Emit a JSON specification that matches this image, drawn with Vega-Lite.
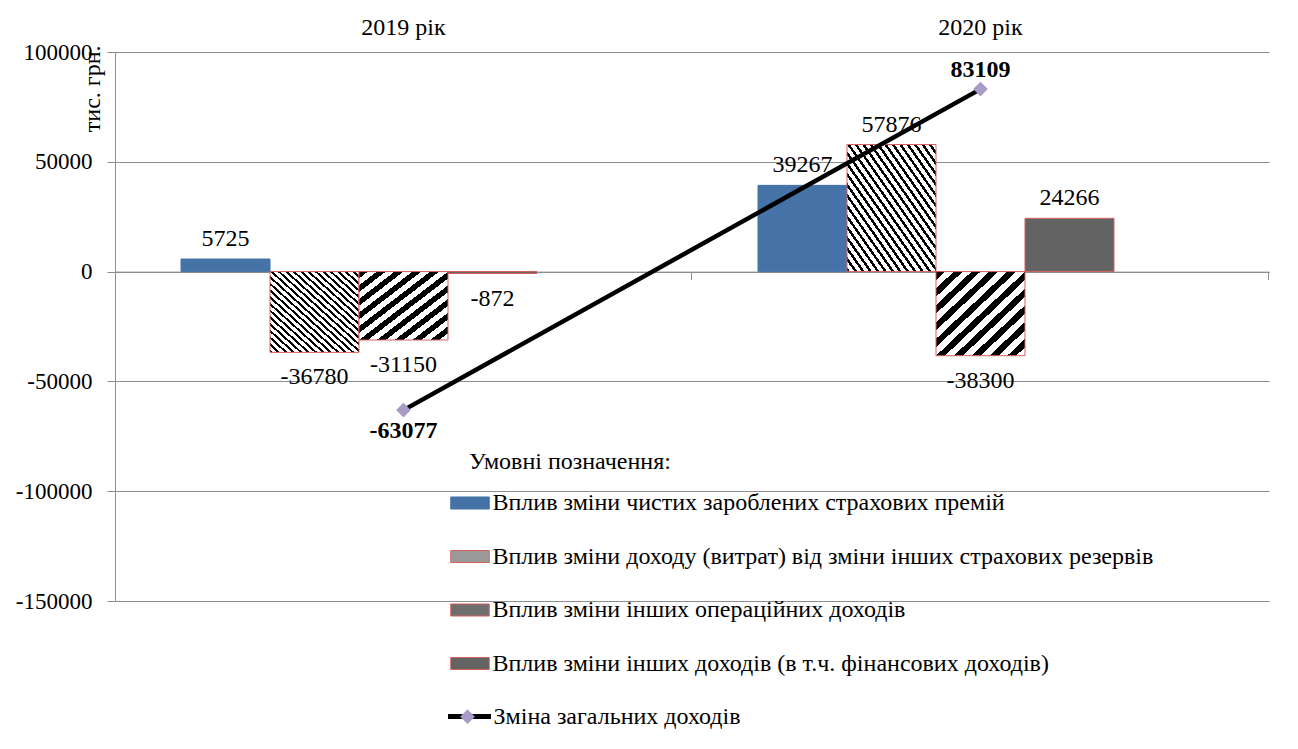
{
  "$schema": "https://vega.github.io/schema/vega-lite/v6.json",
  "autosize": {"type": "none"},
  "padding": {"left": 115, "top": 52, "right": 29, "bottom": 148},
  "width": 1154,
  "height": 549,
  "background": "white",
  "config": {
    "view": {"stroke": null},
    "font": "Liberation Serif",
    "text": {"font": "Liberation Serif", "fontSize": 24, "color": "black"}
  },
  "datasets": {
    "bars": [
      {"year": "2019 рік", "series": "Вплив зміни чистих зароблених страхових премій", "value": 5725},
      {"year": "2019 рік", "series": "Вплив зміни доходу (витрат) від зміни інших страхових резервів", "value": -36780},
      {"year": "2019 рік", "series": "Вплив зміни інших операційних доходів", "value": -31150},
      {"year": "2019 рік", "series": "Вплив зміни інших доходів (в т.ч. фінансових доходів)", "value": -872},
      {"year": "2020 рік", "series": "Вплив зміни чистих зароблених страхових премій", "value": 39267},
      {"year": "2020 рік", "series": "Вплив зміни доходу (витрат) від зміни інших страхових резервів", "value": 57876},
      {"year": "2020 рік", "series": "Вплив зміни інших операційних доходів", "value": -38300},
      {"year": "2020 рік", "series": "Вплив зміни інших доходів (в т.ч. фінансових доходів)", "value": 24266}
    ],
    "totals": [
      {"year": "2019 рік", "total": -63077},
      {"year": "2020 рік", "total": 83109}
    ]
  },
  "resolve": {"axis": {"x": "independent"}},
  "layer": [
    {
      "data": {"name": "bars"},
      "mark": {"type": "bar", "strokeWidth": 1},
      "encoding": {
        "x": {
          "field": "year", "type": "nominal", "sort": null,
          "scale": {"paddingInner": 0.2288, "paddingOuter": 0.1144},
          "axis": {"orient": "top", "title": null, "domain": false, "ticks": false, "tickSize": 0, "grid": false, "labelAngle": 0, "labelFont": "Liberation Serif", "labelFontSize": 24, "labelColor": "black", "labelPadding": 25, "labelBaseline": "middle"}
        },
        "xOffset": {
          "field": "series", "type": "nominal",
          "scale": {"domain": ["Вплив зміни чистих зароблених страхових премій", "Вплив зміни доходу (витрат) від зміни інших страхових резервів", "Вплив зміни інших операційних доходів", "Вплив зміни інших доходів (в т.ч. фінансових доходів)", "_"], "paddingInner": 0, "paddingOuter": 0}
        },
        "y": {
          "field": "value", "type": "quantitative",
          "scale": {"domain": [-150000, 100000], "nice": false, "zero": false},
          "axis": {"values": [-150000, -100000, -50000, 0, 50000, 100000], "labelExpr": "'' + datum.value", "title": "тис. грн.", "titleFont": "Liberation Serif", "titleFontSize": 24, "titleFontWeight": "normal", "titleColor": "black", "titleAngle": 270, "titleAlign": "right", "titleBaseline": "alphabetic", "titleX": -16, "titleY": -7, "labelFont": "Liberation Serif", "labelFontSize": 23, "labelColor": "black", "labelPadding": 15, "tickSize": 8, "tickColor": "#8e8e8e", "domainColor": "#8e8e8e", "gridColor": "#8e8e8e", "grid": true, "gridOpacity": 1}
        },
        "fill": {
          "field": "series", "type": "nominal",
          "scale": {
            "domain": ["Вплив зміни чистих зароблених страхових премій", "Вплив зміни доходу (витрат) від зміни інших страхових резервів", "Вплив зміни інших операційних доходів", "Вплив зміни інших доходів (в т.ч. фінансових доходів)"],
            "range": ["#4572a7", "#9a9a9a", "#6e6e6e", "#636363"]
          },
          "condition": [
            {"test": "datum.series === 'Вплив зміни доходу (витрат) від зміни інших страхових резервів'", "value": {"gradient": "linear", "x1": 0, "y1": 1, "x2": 1, "y2": 0, "stops": [
                {"offset": 0, "color": "#000"}, {"offset": 0.0167, "color": "#000"}, {"offset": 0.0167, "color": "#fff"}, {"offset": 0.0417, "color": "#fff"},
                {"offset": 0.0417, "color": "#000"}, {"offset": 0.0583, "color": "#000"}, {"offset": 0.0583, "color": "#fff"}, {"offset": 0.0833, "color": "#fff"},
                {"offset": 0.0833, "color": "#000"}, {"offset": 0.1, "color": "#000"}, {"offset": 0.1, "color": "#fff"}, {"offset": 0.125, "color": "#fff"},
                {"offset": 0.125, "color": "#000"}, {"offset": 0.1417, "color": "#000"}, {"offset": 0.1417, "color": "#fff"}, {"offset": 0.1667, "color": "#fff"},
                {"offset": 0.1667, "color": "#000"}, {"offset": 0.1833, "color": "#000"}, {"offset": 0.1833, "color": "#fff"}, {"offset": 0.2083, "color": "#fff"},
                {"offset": 0.2083, "color": "#000"}, {"offset": 0.225, "color": "#000"}, {"offset": 0.225, "color": "#fff"}, {"offset": 0.25, "color": "#fff"},
                {"offset": 0.25, "color": "#000"}, {"offset": 0.2667, "color": "#000"}, {"offset": 0.2667, "color": "#fff"}, {"offset": 0.2917, "color": "#fff"},
                {"offset": 0.2917, "color": "#000"}, {"offset": 0.3083, "color": "#000"}, {"offset": 0.3083, "color": "#fff"}, {"offset": 0.3333, "color": "#fff"},
                {"offset": 0.3333, "color": "#000"}, {"offset": 0.35, "color": "#000"}, {"offset": 0.35, "color": "#fff"}, {"offset": 0.375, "color": "#fff"},
                {"offset": 0.375, "color": "#000"}, {"offset": 0.3917, "color": "#000"}, {"offset": 0.3917, "color": "#fff"}, {"offset": 0.4167, "color": "#fff"},
                {"offset": 0.4167, "color": "#000"}, {"offset": 0.4333, "color": "#000"}, {"offset": 0.4333, "color": "#fff"}, {"offset": 0.4583, "color": "#fff"},
                {"offset": 0.4583, "color": "#000"}, {"offset": 0.475, "color": "#000"}, {"offset": 0.475, "color": "#fff"}, {"offset": 0.5, "color": "#fff"},
                {"offset": 0.5, "color": "#000"}, {"offset": 0.5167, "color": "#000"}, {"offset": 0.5167, "color": "#fff"}, {"offset": 0.5417, "color": "#fff"},
                {"offset": 0.5417, "color": "#000"}, {"offset": 0.5583, "color": "#000"}, {"offset": 0.5583, "color": "#fff"}, {"offset": 0.5833, "color": "#fff"},
                {"offset": 0.5833, "color": "#000"}, {"offset": 0.6, "color": "#000"}, {"offset": 0.6, "color": "#fff"}, {"offset": 0.625, "color": "#fff"},
                {"offset": 0.625, "color": "#000"}, {"offset": 0.6417, "color": "#000"}, {"offset": 0.6417, "color": "#fff"}, {"offset": 0.6667, "color": "#fff"},
                {"offset": 0.6667, "color": "#000"}, {"offset": 0.6833, "color": "#000"}, {"offset": 0.6833, "color": "#fff"}, {"offset": 0.7083, "color": "#fff"},
                {"offset": 0.7083, "color": "#000"}, {"offset": 0.725, "color": "#000"}, {"offset": 0.725, "color": "#fff"}, {"offset": 0.75, "color": "#fff"},
                {"offset": 0.75, "color": "#000"}, {"offset": 0.7667, "color": "#000"}, {"offset": 0.7667, "color": "#fff"}, {"offset": 0.7917, "color": "#fff"},
                {"offset": 0.7917, "color": "#000"}, {"offset": 0.8083, "color": "#000"}, {"offset": 0.8083, "color": "#fff"}, {"offset": 0.8333, "color": "#fff"},
                {"offset": 0.8333, "color": "#000"}, {"offset": 0.85, "color": "#000"}, {"offset": 0.85, "color": "#fff"}, {"offset": 0.875, "color": "#fff"},
                {"offset": 0.875, "color": "#000"}, {"offset": 0.8917, "color": "#000"}, {"offset": 0.8917, "color": "#fff"}, {"offset": 0.9167, "color": "#fff"},
                {"offset": 0.9167, "color": "#000"}, {"offset": 0.9333, "color": "#000"}, {"offset": 0.9333, "color": "#fff"}, {"offset": 0.9583, "color": "#fff"},
                {"offset": 0.9583, "color": "#000"}, {"offset": 0.975, "color": "#000"}, {"offset": 0.975, "color": "#fff"}, {"offset": 1, "color": "#fff"}
              ]}},
            {"test": "datum.series === 'Вплив зміни інших операційних доходів'", "value": {"gradient": "linear", "x1": 0, "y1": 0, "x2": 1, "y2": 1, "stops": [
                {"offset": 0, "color": "#000"}, {"offset": 0.05, "color": "#000"}, {"offset": 0.05, "color": "#fff"}, {"offset": 0.1, "color": "#fff"},
                {"offset": 0.1, "color": "#000"}, {"offset": 0.15, "color": "#000"}, {"offset": 0.15, "color": "#fff"}, {"offset": 0.2, "color": "#fff"},
                {"offset": 0.2, "color": "#000"}, {"offset": 0.25, "color": "#000"}, {"offset": 0.25, "color": "#fff"}, {"offset": 0.3, "color": "#fff"},
                {"offset": 0.3, "color": "#000"}, {"offset": 0.35, "color": "#000"}, {"offset": 0.35, "color": "#fff"}, {"offset": 0.4, "color": "#fff"},
                {"offset": 0.4, "color": "#000"}, {"offset": 0.45, "color": "#000"}, {"offset": 0.45, "color": "#fff"}, {"offset": 0.5, "color": "#fff"},
                {"offset": 0.5, "color": "#000"}, {"offset": 0.55, "color": "#000"}, {"offset": 0.55, "color": "#fff"}, {"offset": 0.6, "color": "#fff"},
                {"offset": 0.6, "color": "#000"}, {"offset": 0.65, "color": "#000"}, {"offset": 0.65, "color": "#fff"}, {"offset": 0.7, "color": "#fff"},
                {"offset": 0.7, "color": "#000"}, {"offset": 0.75, "color": "#000"}, {"offset": 0.75, "color": "#fff"}, {"offset": 0.8, "color": "#fff"},
                {"offset": 0.8, "color": "#000"}, {"offset": 0.85, "color": "#000"}, {"offset": 0.85, "color": "#fff"}, {"offset": 0.9, "color": "#fff"},
                {"offset": 0.9, "color": "#000"}, {"offset": 0.95, "color": "#000"}, {"offset": 0.95, "color": "#fff"}, {"offset": 1, "color": "#fff"}
              ]}}
          ],
          "legend": {
            "orient": "none", "legendX": 335, "legendY": 431, "padding": 0, "title": null,
            "labelFont": "Liberation Serif", "labelFontSize": 24, "labelColor": "black", "labelLimit": 0, "labelOffset": 2.5,
            "symbolType": "M-1,-0.312H1V0.312H-1Z", "symbolSize": 1482, "symbolStrokeWidth": 1, "symbolOpacity": 1, "rowPadding": 21.5
          }
        },
        "stroke": {
          "field": "series", "type": "nominal",
          "scale": {
            "domain": ["Вплив зміни чистих зароблених страхових премій", "Вплив зміни доходу (витрат) від зміни інших страхових резервів", "Вплив зміни інших операційних доходів", "Вплив зміни інших доходів (в т.ч. фінансових доходів)"],
            "range": ["#4572a7", "#d6605e", "#d6605e", "#d6605e"]
          },
          "legend": {
            "orient": "none", "legendX": 335, "legendY": 431, "padding": 0, "title": null,
            "labelFont": "Liberation Serif", "labelFontSize": 24, "labelColor": "black", "labelLimit": 0, "labelOffset": 2.5,
            "symbolType": "M-1,-0.312H1V0.312H-1Z", "symbolSize": 1482, "symbolStrokeWidth": 1, "symbolOpacity": 1, "rowPadding": 21.5
          }
        }
      }
    },
    {
      "data": {"name": "bars"},
      "transform": [{"filter": "datum.value >= 0"}],
      "mark": {"type": "text", "baseline": "alphabetic", "dy": -13, "fontSize": 24, "font": "Liberation Serif"},
      "encoding": {
        "x": {"field": "year", "type": "nominal", "sort": null, "axis": null},
        "xOffset": {"field": "series", "type": "nominal"},
        "y": {"field": "value", "type": "quantitative"},
        "text": {"field": "value", "type": "nominal"},
        "opacity": {
          "datum": "Умовні позначення:",
          "scale": {"range": [1]},
          "legend": {
            "orient": "none", "legendX": 354, "legendY": 397.7, "padding": 0,
            "title": "Умовні позначення:", "titleFont": "Liberation Serif", "titleFontSize": 24, "titleFontWeight": "normal", "titleColor": "black", "titleLimit": 0, "titlePadding": 0,
            "labelExpr": "''", "symbolOpacity": 0, "symbolSize": 0, "symbolStrokeWidth": 0, "symbolFillColor": "transparent", "symbolStrokeColor": "transparent", "labelFontSize": 1, "labelOpacity": 0
          }
        }
      }
    },
    {
      "data": {"name": "bars"},
      "transform": [{"filter": "datum.value < 0"}],
      "mark": {"type": "text", "baseline": "alphabetic", "dy": 32, "fontSize": 24, "font": "Liberation Serif"},
      "encoding": {
        "x": {"field": "year", "type": "nominal", "sort": null, "axis": null},
        "xOffset": {"field": "series", "type": "nominal"},
        "y": {"field": "value", "type": "quantitative"},
        "text": {"field": "value", "type": "nominal"}
      }
    },
    {
      "data": {"name": "totals"},
      "mark": {"type": "line", "strokeWidth": 4.5},
      "encoding": {
        "x": {
          "field": "year", "type": "nominal", "sort": null,
          "axis": {"orient": "bottom", "offset": -329.4, "title": null, "labels": false, "grid": false, "domain": true, "domainColor": "#8e8e8e", "ticks": true, "tickSize": 8, "tickColor": "#8e8e8e", "bandPosition": 1.1483}
        },
        "y": {"field": "total", "type": "quantitative"},
        "color": {
          "datum": "Зміна загальних доходів",
          "scale": {"range": ["#000000"]},
          "legend": {
            "orient": "none", "legendX": 330.5, "legendY": 640.5, "padding": 0, "title": null,
            "labelFont": "Liberation Serif", "labelFontSize": 24, "labelColor": "black", "labelLimit": 0, "labelOffset": 0,
            "symbolType": "stroke", "symbolSize": 1849, "symbolStrokeWidth": 5
          }
        }
      }
    },
    {
      "data": {"name": "totals"},
      "mark": {"type": "point", "filled": true, "color": "#a99bc8", "opacity": 1, "size": 216},
      "encoding": {
        "x": {"field": "year", "type": "nominal", "sort": null, "axis": null},
        "y": {"field": "total", "type": "quantitative"},
        "shape": {
          "datum": " ",
          "scale": {"range": ["diamond"]},
          "legend": {
            "orient": "none", "legendX": 345, "legendY": 657.2, "padding": 0, "title": null,
            "labelExpr": "''", "labelFontSize": 1,
            "symbolFillColor": "#a99bc8", "symbolStrokeWidth": 0, "symbolSize": 216
          }
        }
      }
    },
    {
      "data": {"name": "totals"},
      "transform": [{"filter": "datum.total < 0"}],
      "mark": {"type": "text", "fontWeight": "bold", "fontSize": 24, "font": "Liberation Serif", "baseline": "alphabetic", "dy": 28},
      "encoding": {
        "x": {"field": "year", "type": "nominal", "sort": null, "axis": null},
        "y": {"field": "total", "type": "quantitative"},
        "text": {"field": "total", "type": "nominal"}
      }
    },
    {
      "data": {"name": "totals"},
      "transform": [{"filter": "datum.total >= 0"}],
      "mark": {"type": "text", "fontWeight": "bold", "fontSize": 24, "font": "Liberation Serif", "baseline": "alphabetic", "dy": -12.5},
      "encoding": {
        "x": {"field": "year", "type": "nominal", "sort": null, "axis": null},
        "y": {"field": "total", "type": "quantitative"},
        "text": {"field": "total", "type": "nominal"}
      }
    }
  ]
}
